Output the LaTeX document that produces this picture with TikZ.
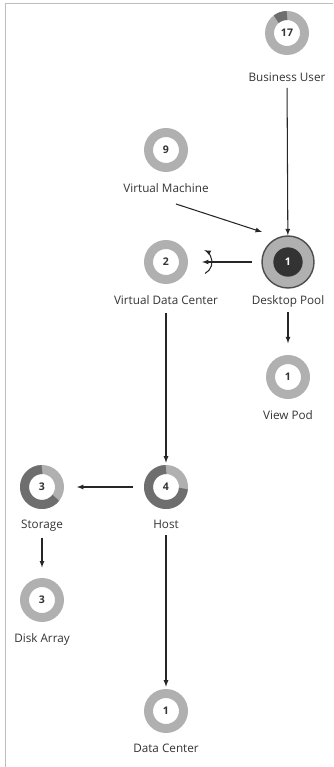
\documentclass[tikz,border=0pt]{standalone}
\usepackage{fontspec}
\setmainfont{Open Sans}
\usetikzlibrary{arrows,positioning}
\definecolor{ringlight}{HTML}{B0B0B0}
\definecolor{ringdark}{HTML}{6E6E6E}
\definecolor{labeltext}{HTML}{333333}
\definecolor{frame}{HTML}{BDBDBD}
\tikzset{ring/.style = {circle, draw=ringlight, line width=7.65pt, minimum size=1.05cm, inner sep=0pt,
                        text=labeltext, font=\bfseries\fontsize{9}{10}\selectfont},
         caption/.style = {inner sep=1pt, text=labeltext, font=\fontsize{10}{11}\selectfont},
         pool/.style = {circle, fill=ringlight, draw=ringdark!70!black, line width=1.2pt, minimum size=1.56cm},
         poolcore/.style = {circle, fill=black!80, minimum size=0.88cm, inner sep=0pt,
                            text=white, font=\bfseries\fontsize{9}{10}\selectfont},
         part/.style = {draw=ringdark, line width=7.65pt},
         link/.style = {-latex, draw=black!85, line width=0.9pt},
}

\begin{document}
\begin{tikzpicture}[x=0.03cm, y=0.03cm, node distance = 0.3cm]
  \useasboundingbox (0,0) rectangle (333,-767);
  \draw[frame, line width=0.8pt] (5,-767) -- (5,-3) -- (333,-3);

  \node[ring] (bu)  at (287,-33) {17};
  \node[caption, below = 0.5cm of bu] (buname) {Business User};
  \node[ring] (vm)  at (166,-150) {9};
  \node[caption, below = of vm] (vmname) {Virtual Machine};
  \node[ring] (vdc) at (166,-262) {2};
  \node[caption, below = of vdc] (vdcname) {Virtual Data Center};
  \node[pool] (dp)  at (288,-262) {};
  \node[poolcore] (dpcore) at (dp.center) {1};
  \node[caption, below = 0.16cm of dp] (dpname) {Desktop Pool};
  \node[ring] (vp)  at (288,-377) {1};
  \node[caption, below = of vp] (vpname) {View Pod};
  \node[ring] (host) at (166,-487) {4};
  \node[caption, below = of host] (hostname) {Host};
  \node[ring] (st)  at (42,-487) {3};
  \node[caption, below = of st] (stname) {Storage};
  \node[ring] (da)  at (42,-600) {3};
  \node[caption, below = of da] (daname) {Disk Array};
  \node[ring] (dc)  at (166,-711) {1};
  \node[caption, below = of dc] (dcname) {Data Center};

  % darker parts of the rings
  \draw[part] (bu.center) ++(90:17.5) arc[start angle=90, end angle=128, radius=17.5];
  \draw[part] (host.center) ++(-5:17.5) arc[start angle=-5, end angle=-270, radius=17.5];
  \draw[part] (st.center) ++(-38:17.5) arc[start angle=-38, end angle=-270, radius=17.5];

  \coordinate (vmout) at (176,-204);
  \coordinate (vmin) at (262,-232);

  \draw[link, shorten <=4pt] (buname) -- (dp);
  \draw[link] (vmout) -- (vmin);
  \draw[link, shorten <=8pt, shorten >=12pt] (dp) -- (vdc);
  \draw[link] ([xshift=0.33cm]vdc.east) ++(-62:13) arc[start angle=-62, end angle=66, radius=13];
  \draw[link, shorten <=3pt, shorten >=10pt] (dpname) -- (vp);
  \draw[link, shorten <=6pt, shorten >=2pt] (vdcname) -- (host);
  \draw[link, shorten <=9pt, shorten >=11pt] (host) -- (st);
  \draw[link, shorten <=4pt, shorten >=9pt] (stname) -- (da);
  \draw[link, shorten <=4pt, shorten >=2pt] (hostname) -- (dc);

\end{tikzpicture}
\end{document}
